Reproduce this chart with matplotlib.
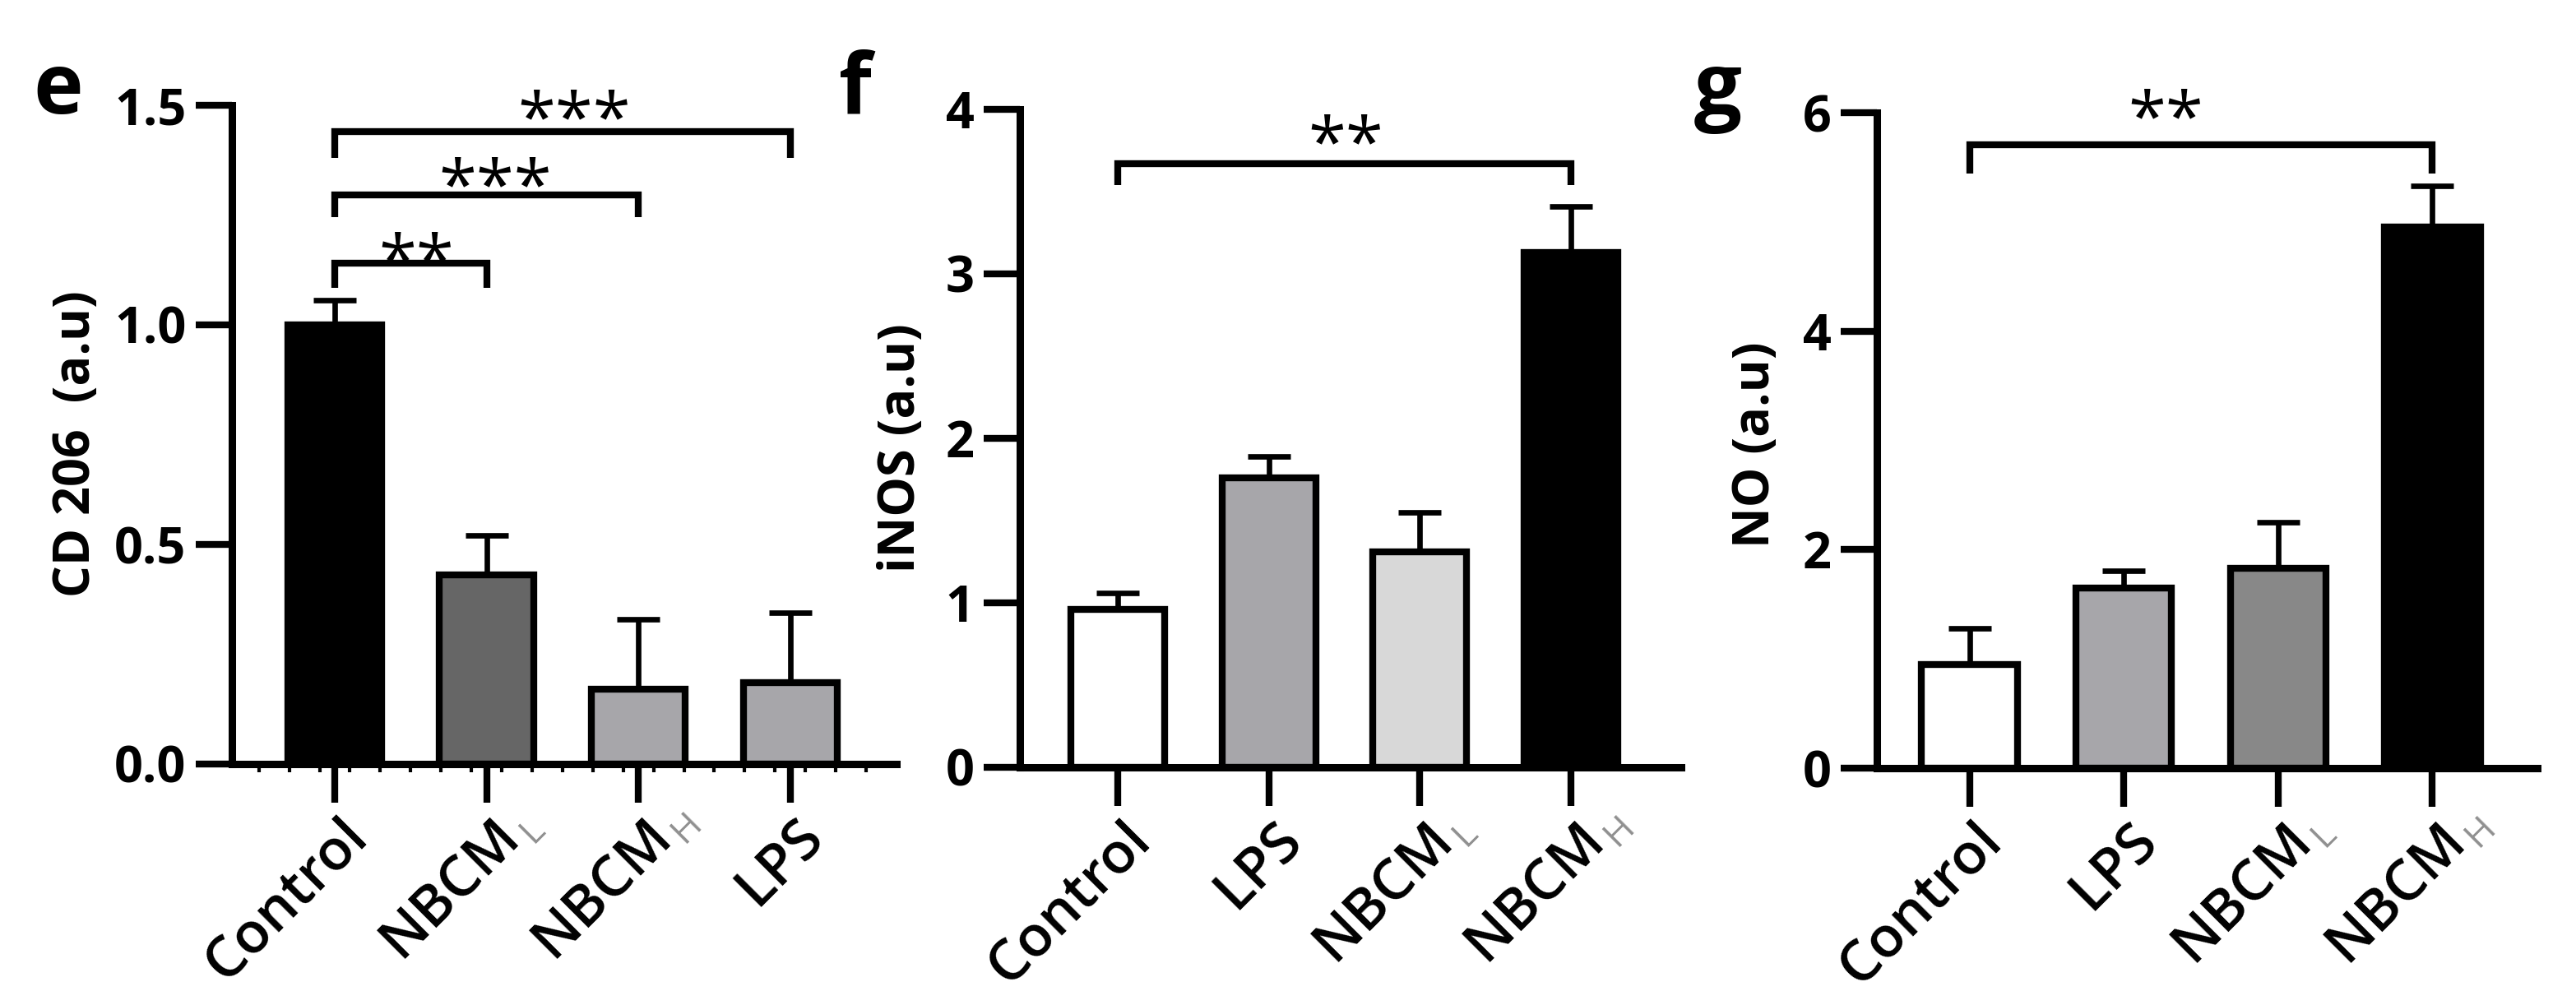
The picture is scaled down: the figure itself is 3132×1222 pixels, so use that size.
import matplotlib
matplotlib.use("Agg")
import matplotlib.pyplot as plt
from matplotlib.transforms import offset_copy
import numpy as np

plt.rcParams['font.family'] = ['Open Sans', 'DejaVu Sans']

# ---------------- data ----------------
e_groups = ['Control', 'NBCM|L', 'NBCM|H', 'LPS']
e_means = [1.0, 0.43, 0.17, 0.185]
e_errs = [0.056, 0.09, 0.16, 0.16]
e_colors = ['#000000', '#666666', '#a7a6aa', '#a7a6aa']
e_yticks = [0.0, 0.5, 1.0, 1.5]
e_yticklabels = ['0.0', '0.5', '1.0', '1.5']
e_ylabel = 'CD 206  (a.u)'
# (left group, right group, bar height, leg end, label, star x, star y)
e_sig = [(0, 3, 1.44, 1.38, '***', 1.58, 1.51),
         (0, 2, 1.295, 1.245, '***', 1.06, 1.355),
         (0, 1, 1.14, 1.085, '**', 0.54, 1.185)]

f_groups = ['Control', 'LPS', 'NBCM|L', 'NBCM|H']
f_means = [0.96, 1.76, 1.31, 3.13]
f_errs = [0.10, 0.13, 0.24, 0.28]
f_colors = ['#ffffff', '#a7a6aa', '#d8d8d8', '#000000']
f_yticks = [0, 1, 2, 3, 4]
f_yticklabels = ['0', '1', '2', '3', '4']
f_ylabel = 'iNOS (a.u)'
f_sig = [(0, 3, 3.67, 3.54, '**', 1.51, 3.9)]

g_groups = ['Control', 'LPS', 'NBCM|L', 'NBCM|H']
g_means = [0.95, 1.65, 1.83, 4.95]
g_errs = [0.33, 0.16, 0.42, 0.38]
g_colors = ['#ffffff', '#a7a6aa', '#888888', '#000000']
g_yticks = [0, 2, 4, 6]
g_yticklabels = ['0', '2', '4', '6']
g_ylabel = 'NO (a.u)'
g_sig = [(0, 3, 5.71, 5.44, '**', 1.27, 6.11)]

panel_letters = ['e', 'f', 'g']

# ---------------- layout ----------------
W, H = 3132, 1222
fig = plt.figure(figsize=(W / 100, H / 100), dpi=100)

def rect(x0, x1, ytop, ybot):
    return [x0 / W, 1 - ybot / H, (x1 - x0) / W, (ybot - ytop) / H]

axes_specs = [
    dict(rect=rect(282, 1090, 128, 929), xlim=(-0.677, 3.70), ylim=(0, 1.5),
         groups=e_groups, means=e_means, errs=e_errs, colors=e_colors,
         yticks=e_yticks, yticklabels=e_yticklabels, ylabel=e_ylabel, sig=e_sig,
         ylab_x=-0.233, ylab_y=0.486, minor=True, letter_xy=(40, 138)),
    dict(rect=rect(1240, 2044, 133, 933), xlim=(-0.648, 3.73), ylim=(0, 4),
         groups=f_groups, means=f_means, errs=f_errs, colors=f_colors,
         yticks=f_yticks, yticklabels=f_yticklabels, ylabel=f_ylabel, sig=f_sig,
         ylab_x=-0.179, ylab_y=0.485, minor=False, letter_xy=(1020, 138)),
    dict(rect=rect(2282, 3085, 137, 934), xlim=(-0.60, 3.68), ylim=(0, 6),
         groups=g_groups, means=g_means, errs=g_errs, colors=g_colors,
         yticks=g_yticks, yticklabels=g_yticklabels, ylabel=g_ylabel, sig=g_sig,
         ylab_x=-0.182, ylab_y=0.494, minor=False, letter_xy=(2060, 138)),
]

LW = 6.0
XFS = 50
for letter, spec in zip(panel_letters, axes_specs):
    ax = fig.add_axes(spec['rect'])
    x = np.arange(len(spec['groups']))
    ax.bar(x, spec['means'], width=0.62, color=spec['colors'], edgecolor='black',
           linewidth=LW, zorder=3)
    ax.errorbar(x, spec['means'], yerr=[np.zeros(len(x)), spec['errs']], fmt='none',
                ecolor='black', elinewidth=4.8, capsize=19, capthick=4.8, zorder=2)
    ax.set_xlim(*spec['xlim'])
    ax.set_ylim(*spec['ylim'])
    for s in ['top', 'right']:
        ax.spines[s].set_visible(False)
    for s in ['left', 'bottom']:
        ax.spines[s].set_linewidth(6.5)
        ax.spines[s].set_capstyle('projecting')
    ax.set_yticks(spec['yticks'])
    ax.set_yticklabels(spec['yticklabels'], fontsize=44, fontweight='bold')
    ax.tick_params(axis='y', length=32, width=6, pad=8)
    ax.set_xticks(x)
    ax.set_xticklabels([''] * len(x))
    ax.tick_params(axis='x', length=34, width=6)
    if spec['minor']:
        ax.set_xticks(np.arange(-0.5, 3.7, 0.2), minor=True)
        ax.tick_params(axis='x', which='minor', length=7, width=3)
    ax.set_ylabel(spec['ylabel'], fontsize=44, fontweight='bold')
    ax.yaxis.set_label_coords(spec['ylab_x'], spec['ylab_y'])
    ax.yaxis.label.set_verticalalignment('center')

    # x tick labels with grey subscripts
    base = ax.get_xaxis_transform()
    for i, name in enumerate(spec['groups']):
        main, _, sub = name.partition('|')
        tr = offset_copy(base, fig=fig, x=4, y=-38, units='points')
        ax.text(i, 0, main, transform=tr, rotation=45, rotation_mode='anchor',
                ha='right', va='top', fontsize=XFS, fontweight='semibold',
                clip_on=False)
        if sub:
            d = 24
            tr2 = offset_copy(base, fig=fig, x=4 + 0.707 * d + 2, y=-38 - 0.707 * d + 2,
                              units='points')
            ax.text(i, 0, sub, transform=tr2, rotation=45, rotation_mode='anchor',
                    ha='left', va='top', fontsize=32, color='#909090',
                    clip_on=False)

    # significance brackets
    for (a, b, y, yd, lab, sx, sy) in spec['sig']:
        ax.plot([a, a, b, b], [yd, y, y, yd], color='black', lw=6,
                solid_joinstyle='miter', solid_capstyle='butt', clip_on=False,
                zorder=4)
        fs = 60
        tr3 = offset_copy(ax.transData, fig=fig, x=0, y=-0.58 * fs, units='points')
        ax.text(sx, sy, lab, transform=tr3,
                ha='center', va='baseline', fontsize=fs, clip_on=False)

    lx, ly = spec['letter_xy']
    fig.text(lx / W, 1 - ly / H, letter, fontsize=74, fontweight='bold',
             ha='left', va='baseline')

fig.savefig('out.png', dpi=100, facecolor='white')
